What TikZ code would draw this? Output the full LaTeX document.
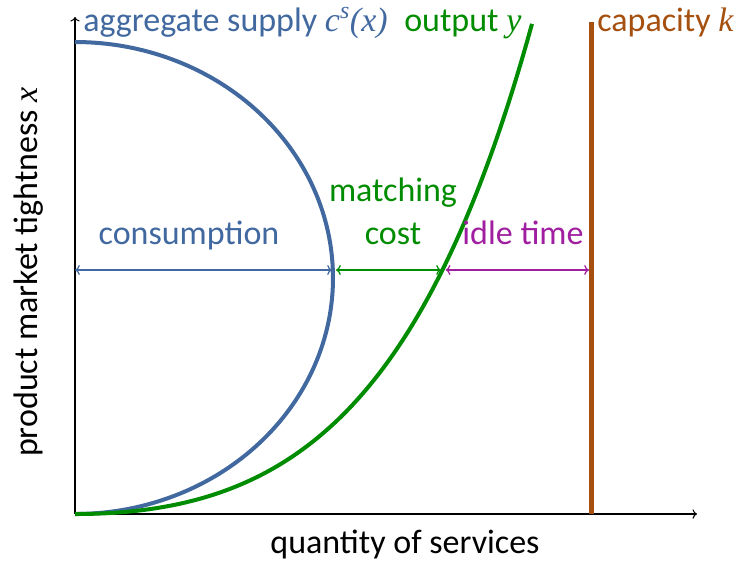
\documentclass[tikz,border=0pt]{standalone}
\usepackage{fontspec}
\setmainfont{Carlito}
\newfontfamily\mathserif{Liberation Serif}
\usetikzlibrary{arrows.meta}
\definecolor{supplyblue}{RGB}{65,105,160}
\definecolor{outputgreen}{RGB}{0,140,0}
\definecolor{capbrown}{RGB}{165,80,15}
\definecolor{idlepurple}{RGB}{160,30,160}
\newcommand{\mvar}[1]{{\mathserif\itshape #1}}

\begin{document}
\begin{tikzpicture}[x=0.75pt, y=-0.75pt,
    curve/.style={line width=3pt},
    gap/.style={<->, line width=0.9pt},
    lbl/.style={inner sep=0pt, font=\fontsize{25.5}{30}\selectfont}]
    \useasboundingbox (0,0) rectangle (737,562);

    % axes
    \coordinate (o) at (75,514);
    \coordinate (xend) at (697,514);
    \coordinate (yend) at (75,17);
    \draw[->, line width=0.8pt] (o) -- (xend);
    \draw[->, line width=0.8pt] (o) -- (yend);

    % curves
    \draw[supplyblue, curve] plot[domain=-90:90, samples=80, smooth]
        ({75+258*cos(\x)}, {278+236*sin(\x)});
    \draw[outputgreen, curve] plot[domain=0:457, samples=80, smooth]
        ({75+\x}, {514-41.7*(exp(0.006*\x)-1-0.006*\x)});
    \coordinate (captop) at (591,22);
    \coordinate (capbot) at (591,514);
    \draw[capbrown, line width=3.75pt] (capbot) -- (captop);

    % gaps at the chosen tightness
    \coordinate (cons) at (75,270);
    \coordinate (supp) at (334,270);
    \coordinate (out) at (443,270);
    \coordinate (cap) at (591,270);
    \draw[supplyblue, gap] (cons) -- ([xshift=-1.5pt]supp);
    \draw[outputgreen, gap] ([xshift=1.5pt]supp) -- ([xshift=-1.5pt]out);
    \draw[idlepurple, gap] ([xshift=2pt]out) -- ([xshift=-1.5pt]cap);

    % labels
    \node[lbl, supplyblue, anchor=base] (consumption) at (189,244) {consumption};
    \node[lbl, outputgreen, anchor=base] (matching) at (393,201) {matching};
    \node[lbl, outputgreen, anchor=base] (cost) at (393,244) {cost};
    \node[lbl, idlepurple, anchor=base] (idle) at (523,244) {idle time};
    \node[lbl, supplyblue, anchor=base west] (supply) at (83,31)
        {aggregate supply \mvar{c\textsuperscript{s}(x)}};
    \node[lbl, outputgreen, anchor=base west] (output) at (404,31)
        {output \mvar{y}};
    \node[lbl, capbrown, anchor=base west] (capacity) at (597,31)
        {capacity \mvar{k}};
    \node[lbl, anchor=base] (xlabel) at (405,553) {quantity of services};
    \node[lbl, anchor=base, rotate=90] (ylabel) at (37,272)
        {product market tightness \mvar{x}};
\end{tikzpicture}
\end{document}
